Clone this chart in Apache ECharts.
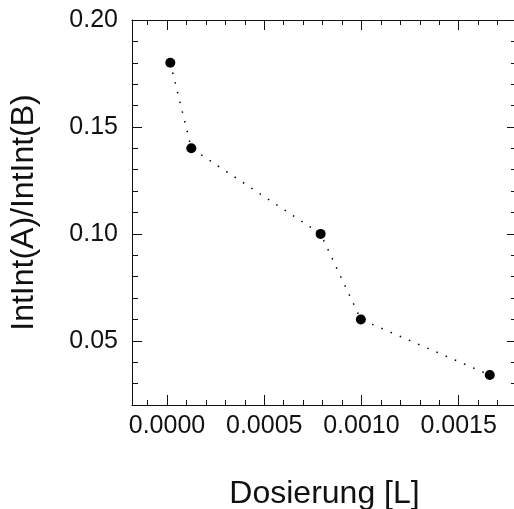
<!DOCTYPE html>
<html>
<head>
<meta charset="utf-8">
<script src="https://cdn.jsdelivr.net/npm/echarts@6/dist/echarts.min.js"></script>
<style>
  html, body { margin: 0; padding: 0; background: #fff; }
  #main { width: 514px; height: 509px; }
</style>
</head>
<body>
<div id="main"></div>
<script>
// Dosierung [L] vs IntInt(A)/IntInt(B)
var dosierung = [0.000017, 0.000125, 0.00079, 0.000997, 0.00166];
var verhaeltnis = [0.180, 0.140, 0.100, 0.060, 0.034];

var xMajor = [0, 0.0005, 0.0010, 0.0015];
var xMinor = [-0.0001, 0.0001, 0.0002, 0.0003, 0.0004, 0.0006, 0.0007, 0.0008, 0.0009,
  0.0011, 0.0012, 0.0013, 0.0014, 0.0016, 0.0017];
var yMajor = [0.05, 0.10, 0.15, 0.20];
var yMinor = [0.03, 0.04, 0.06, 0.07, 0.08, 0.09, 0.11, 0.12, 0.13, 0.14, 0.16, 0.17, 0.18, 0.19];

var xMin = -0.00018, xMax = 0.0018;
var yMin = 0.02, yMax = 0.20;

var font = 'Liberation Sans, Arial, sans-serif';
var ink = '#111';

function xAxisDef(pos, ticks, len, main) {
  var labelled = main && pos === 'bottom';
  return {
    type: 'value', position: pos, min: xMin, max: xMax,
    name: labelled ? 'Dosierung [L]' : '',
    nameLocation: 'middle', nameGap: 73,
    nameTextStyle: { fontFamily: font, fontSize: 32, color: ink },
    axisLine: { show: main, onZero: false, lineStyle: { color: ink, width: 1 } },
    axisTick: { show: true, inside: true, length: len, customValues: ticks, lineStyle: { color: ink, width: 1 } },
    axisLabel: {
      show: labelled, customValues: ticks, margin: 9,
      fontFamily: font, fontSize: 25, color: ink,
      formatter: function (v) { return v.toFixed(4); }
    },
    splitLine: { show: false }
  };
}

function yAxisDef(pos, ticks, len, main) {
  var labelled = main && pos === 'left';
  return {
    type: 'value', position: pos, min: yMin, max: yMax,
    name: labelled ? 'IntInt(A)/IntInt(B)' : '',
    nameLocation: 'middle', nameGap: 92, nameRotate: 90,
    nameTextStyle: { fontFamily: font, fontSize: 32, color: ink },
    axisLine: { show: main, onZero: false, lineStyle: { color: ink, width: 1 } },
    axisTick: { show: true, inside: true, length: len, customValues: ticks, lineStyle: { color: ink, width: 1 } },
    axisLabel: {
      show: labelled, customValues: ticks, margin: 14,
      fontFamily: font, fontSize: 25, color: ink,
      formatter: function (v) { return v.toFixed(2); }
    },
    splitLine: { show: false }
  };
}

var myChart = echarts.init(document.getElementById('main'));
myChart.setOption({
  animation: false,
  backgroundColor: '#fff',
  grid: { left: 132, top: 20, width: 385, height: 385, outerBoundsMode: 'none', containLabel: false },
  xAxis: [
    xAxisDef('bottom', xMajor, 10, true),
    xAxisDef('bottom', xMinor, 5, false),
    xAxisDef('top', xMajor, 10, true),
    xAxisDef('top', xMinor, 5, false)
  ],
  yAxis: [
    yAxisDef('left', yMajor, 10, true),
    yAxisDef('left', yMinor, 6, false),
    yAxisDef('right', yMajor, 10, true),
    yAxisDef('right', yMinor, 6, false)
  ],
  series: [
    {
      type: 'line',
      xAxisIndex: 0,
      yAxisIndex: 0,
      data: dosierung.map(function (x, i) { return [x, verhaeltnis[i]]; }),
      symbol: 'circle',
      symbolSize: 10,
      itemStyle: { color: '#000' },
      lineStyle: { color: '#000', width: 1.5, type: [1.5, 8.5], cap: 'butt' }
    }
  ]
});
</script>
</body>
</html>
